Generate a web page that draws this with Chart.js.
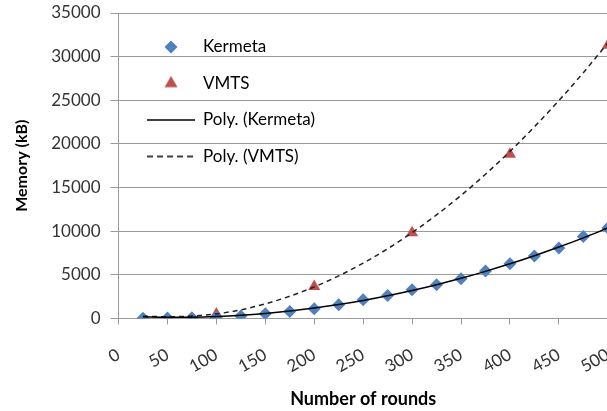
<!DOCTYPE html>
<html><head><meta charset="utf-8">
<script src="https://cdn.jsdelivr.net/npm/chart.js@4.4.1/dist/chart.umd.min.js"></script>
<style>html,body{margin:0;padding:0;background:#fff;overflow:hidden}
#wrap{width:638px;height:411px;position:relative}</style></head>
<body><div id="wrap"><canvas id="c"></canvas></div>
<script>
const rounds = [25,50,75,100,125,150,175,200,225,250,275,300,325,350,375,400,425,450,475,500];
const kermeta = [20,40,80,150,270,540,800,1110,1570,2140,2640,3290,3870,4550,5430,6270,7150,8070,9400,10360];
const vmtsRounds = [100,200,300,400,500];
const vmts = [500,3670,9830,18810,31310];
const kermetaTrend = [180,127,141,220,363,573,847,1187,1592,2063,2598,3200,3866,4598,5395,6257,7185,8178,9236,10360];
const vmtsTrend = [260,200,280,520,986,1670,2546,3615,4877,6333,7983,9830,11866,14100,16525,19145,21958,24965,28166,31560];
const xTicks = [0,50,100,150,200,250,300,350,400,450,500];
const yTicks = [0,5000,10000,15000,20000,25000,30000,35000];
const seriesNames = ['Kermeta','VMTS','Poly. (Kermeta)','Poly. (VMTS)'];
const xTitle = 'Number of rounds';
const yTitle = 'Memory (kB)';

const BLUE = '#4F81BD', RED = '#C0504D', GRID = '#9a9a9a';

function pts(xs, ys){ return xs.map((x,i)=>({x:x, y:ys[i]})); }

function markerImg(style, radius, color){
  const c = document.createElement('canvas'); c.width = 20; c.height = 20;
  const ctx = c.getContext('2d'); ctx.fillStyle = color; ctx.strokeStyle = color;
  Chart.helpers.drawPoint(ctx, {pointStyle: style, radius: radius, borderWidth: 0, rotation: 0}, 10, 10);
  return c;
}
function lineImg(dash){
  const c = document.createElement('canvas'); c.width = 48; c.height = 6;
  const ctx = c.getContext('2d'); ctx.strokeStyle = '#000'; ctx.lineWidth = 1.5;
  ctx.setLineDash(dash); ctx.beginPath(); ctx.moveTo(0,3); ctx.lineTo(48,3); ctx.stroke();
  return c;
}

Chart.defaults.font.family = 'Lato';
Chart.defaults.color = '#333';

const legendShift = {
  id: 'legendShift',
  afterLayout(chart){ if (chart.legend){ chart.legend.left += 9.5; chart.legend.top += 19; } }
};

const legendIcons = [markerImg('rectRot', 6.5, BLUE), markerImg('triangle', 7.5, RED), lineImg([]), lineImg([6,4])];

new Chart(document.getElementById('c'), {
  type: 'scatter',
  data: {
    datasets: [
      {label: seriesNames[0], data: pts(rounds, kermeta), pointStyle: 'rectRot', pointRadius: 6.5, backgroundColor: BLUE, borderColor: BLUE, borderWidth: 0, showLine: false, order: 2},
      {label: seriesNames[1], data: pts(vmtsRounds, vmts), pointStyle: 'triangle', pointRadius: 7, backgroundColor: RED, borderColor: RED, borderWidth: 0, showLine: false, order: 2},
      {label: seriesNames[2], data: pts(rounds, kermetaTrend), showLine: true, pointRadius: 0, borderColor: '#000', borderWidth: 1.5, cubicInterpolationMode: 'monotone', order: 1},
      {label: seriesNames[3], data: pts(rounds, vmtsTrend), showLine: true, pointRadius: 0, borderColor: '#222', borderWidth: 1.5, borderDash: [5,4], cubicInterpolationMode: 'monotone', order: 1}
    ]
  },
  options: {
    responsive: true, maintainAspectRatio: false, animation: false,
    layout: {padding: {left: 8, top: 13, right: 0, bottom: 0}},
    plugins: {
      tooltip: {enabled: false},
      legend: {
        position: 'chartArea', align: 'start',
        labels: {
          usePointStyle: true, pointStyleWidth: 47, boxHeight: 10, padding: 19.5,
          color: '#000', font: {size: 17},
          generateLabels: (chart) => chart.data.datasets.map((ds, i) => ({
            text: ds.label, fillStyle: ds.backgroundColor || '#000', strokeStyle: ds.borderColor,
            lineWidth: 0, pointStyle: legendIcons[i], datasetIndex: i, hidden: false
          }))
        }
      }
    },
    scales: {
      x: {
        type: 'linear', min: 0, max: 500,
        afterBuildTicks: (s) => { s.ticks = xTicks.map(v => ({value: v})); },
        ticks: {autoSkip: false, minRotation: 30, maxRotation: 30, padding: 20, font: {size: 17}, color: '#333', callback: (v) => String(v)},
        grid: {drawOnChartArea: false, drawTicks: true, tickLength: 6, color: GRID},
        border: {display: true, color: GRID, width: 1},
        title: {display: true, text: xTitle, color: '#000', font: {size: 18, weight: 'bold'}, padding: {top: -8.5, bottom: 1}}
      },
      y: {
        min: 0, max: 35000,
        afterBuildTicks: (s) => { s.ticks = yTicks.map(v => ({value: v})); },
        ticks: {padding: 10, font: {size: 17, lineHeight: 0.3}, color: '#333', callback: (v) => String(v)},
        grid: {color: GRID, lineWidth: 1, drawTicks: true, tickLength: 8},
        border: {display: true, color: GRID, width: 1},
        title: {display: true, text: yTitle, color: '#000', font: {size: 16, weight: 'bold'}, padding: {top: 4, bottom: 10}}
      }
    }
  },
  plugins: [legendShift]
});
</script></body></html>
